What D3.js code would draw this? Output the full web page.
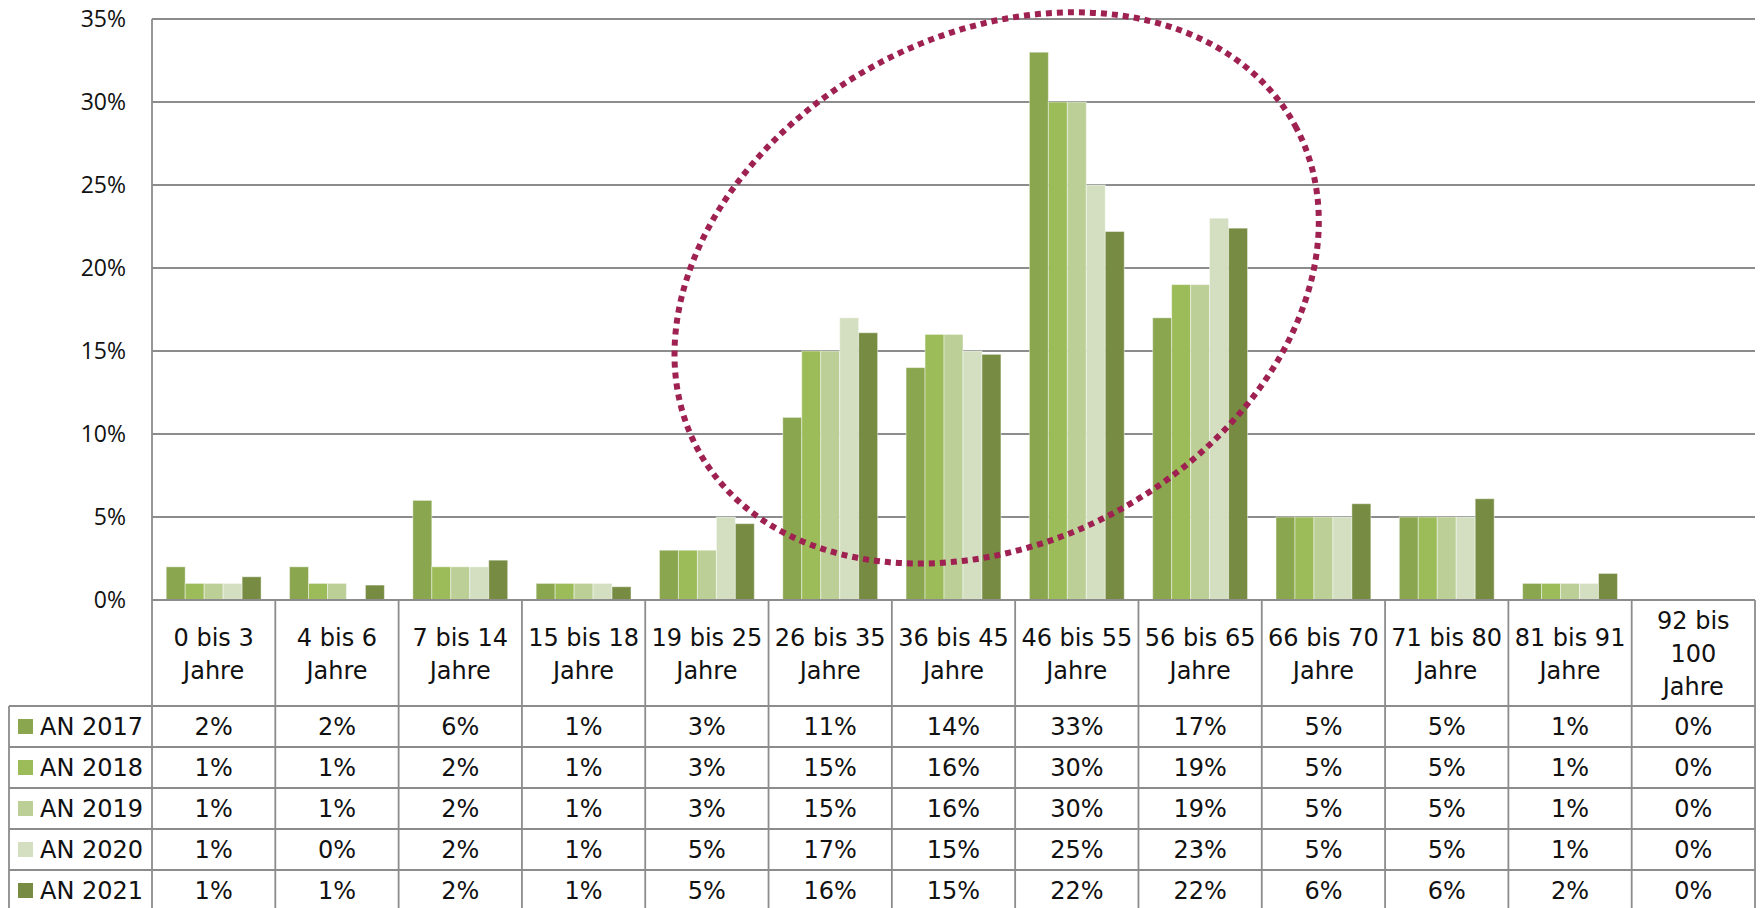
<!DOCTYPE html>
<html>
<head>
<meta charset="utf-8">
<script src="https://cdn.jsdelivr.net/npm/d3@7"></script>
<style>
  html, body { margin: 0; padding: 0; background: #ffffff; }
  svg { display: block; }
</style>
</head>
<body>
<svg id="chart" width="1760" height="908"></svg>
<script>
// ---------------- DATA ----------------
const categories = [
  "0 bis 3 Jahre", "4 bis 6 Jahre", "7 bis 14 Jahre", "15 bis 18 Jahre",
  "19 bis 25 Jahre", "26 bis 35 Jahre", "36 bis 45 Jahre", "46 bis 55 Jahre",
  "56 bis 65 Jahre", "66 bis 70 Jahre", "71 bis 80 Jahre", "81 bis 91 Jahre",
  "92 bis 100 Jahre"
];
const seriesNames = ["AN 2017", "AN 2018", "AN 2019", "AN 2020", "AN 2021"];
const an2017 = [2, 2, 6, 1, 3, 11, 14, 33, 17, 5, 5, 1, 0];
const an2018 = [1, 1, 2, 1, 3, 15, 16, 30, 19, 5, 5, 1, 0];
const an2019 = [1, 1, 2, 1, 3, 15, 16, 30, 19, 5, 5, 1, 0];
const an2020 = [1, 0, 2, 1, 5, 17, 15, 25, 23, 5, 5, 1, 0];
const an2021 = [1.4, 0.9, 2.4, 0.8, 4.6, 16.1, 14.8, 22.2, 22.4, 5.8, 6.1, 1.6, 0];
const seriesValues = [an2017, an2018, an2019, an2020, an2021];
const yTicks = [0, 5, 10, 15, 20, 25, 30, 35];
const seriesColors = ["#8aa64f", "#9cbb59", "#bbcf97", "#d3dfc0", "#778c42"];
// highlight ellipse annotation (in category index / percent units)
const highlight = { centerCat: 6.85, centerVal: 18.8, rxCats: 2.755, ryCats: 2.057, angle: -28.5 };

// ---------------- LAYOUT ----------------
const W = 1760, H = 908;
const plotLeft = 152, plotRight = 1755, plotTop = 19, plotBottom = 600;
const headerBottom = 706, rowH = 41, tableLeft = 9;
const gridColor = "#8c8c8c";
const tableFont = "'DejaVu Sans', sans-serif";

const svg = d3.select("#chart");

const x0 = d3.scaleBand().domain(categories).range([plotLeft, plotRight]).paddingInner(0).paddingOuter(0);
const x1 = d3.scaleBand().domain(seriesNames).range([0, x0.bandwidth()]).paddingInner(0).paddingOuter(0.75);
const y = d3.scaleLinear().domain([0, 35]).range([plotBottom, plotTop]);
const catPos = d3.scaleLinear().domain([0, categories.length]).range([plotLeft, plotRight]);

// gridlines
svg.append("g").selectAll("line").data(yTicks.filter(t => t > 0)).join("line")
  .attr("x1", plotLeft).attr("x2", plotRight)
  .attr("y1", d => y(d)).attr("y2", d => y(d))
  .attr("stroke", gridColor).attr("stroke-width", 1.8);

// y axis labels
const yAxis = d3.axisLeft(y).tickValues(yTicks).tickSize(0).tickPadding(26)
  .tickFormat(d => d + "%");
const yg = svg.append("g").attr("transform", `translate(${plotLeft},0)`).call(yAxis);
yg.select(".domain").remove();
yg.selectAll("text").attr("font-family", "'Open Sans', sans-serif").attr("font-size", 23)
  .attr("fill", "#111");

// bars
const groups = svg.append("g").selectAll("g").data(categories).join("g")
  .attr("transform", d => `translate(${x0(d)},0)`);
groups.selectAll("rect")
  .data((c, ci) => seriesNames.map((s, si) => ({ s, si, v: seriesValues[si][ci] })))
  .join("rect")
  .attr("x", d => x1(d.s))
  .attr("width", x1.bandwidth())
  .attr("y", d => y(d.v))
  .attr("height", d => y(0) - y(d.v))
  .attr("fill", d => seriesColors[d.si])
  .attr("stroke", "rgba(255,255,255,0.45)")
  .attr("stroke-width", d => d.v > 0 ? 1 : 0);

// y axis line
svg.append("line").attr("x1", plotLeft).attr("x2", plotLeft)
  .attr("y1", plotTop).attr("y2", H).attr("stroke", gridColor).attr("stroke-width", 1.8);

// ---------------- TABLE ----------------
const tableBottom = headerBottom + rowH * seriesNames.length;
const tg = svg.append("g");
tg.append("line").attr("x1", plotLeft).attr("x2", plotRight)
  .attr("y1", plotBottom).attr("y2", plotBottom).attr("stroke", gridColor).attr("stroke-width", 2.2);
d3.range(seriesNames.length + 1).forEach(i => {
  const yy = headerBottom + i * rowH;
  tg.append("line").attr("x1", tableLeft).attr("x2", plotRight)
    .attr("y1", yy).attr("y2", yy).attr("stroke", gridColor).attr("stroke-width", 1.8);
});
categories.forEach(c => {
  const xx = x0(c) + x0.bandwidth();
  tg.append("line").attr("x1", xx).attr("x2", xx)
    .attr("y1", plotBottom).attr("y2", tableBottom).attr("stroke", gridColor).attr("stroke-width", 1.8);
});
tg.append("line").attr("x1", tableLeft).attr("x2", tableLeft)
  .attr("y1", headerBottom).attr("y2", tableBottom).attr("stroke", gridColor).attr("stroke-width", 1.8);

// header labels (wrapped)
const headerCenter = (plotBottom + headerBottom) / 2;
const lineH = 33;
categories.forEach(c => {
  const t = tg.append("text").attr("font-family", tableFont).attr("font-size", 24)
    .attr("fill", "#111").attr("text-anchor", "middle");
  const main = c.replace(/ Jahre$/, "");
  const words = main.split(" ");
  const maxW = x0.bandwidth() - 8;
  const lines = [];
  let cur = "";
  const probe = tg.append("text").attr("font-family", tableFont).attr("font-size", 24);
  words.forEach(w => {
    const test = cur ? cur + " " + w : w;
    probe.text(test);
    if (cur && probe.node().getComputedTextLength() > maxW) { lines.push(cur); cur = w; }
    else cur = test;
  });
  lines.push(cur);
  lines.push("Jahre");
  probe.remove();
  const n = lines.length;
  const first = headerCenter + 9 - (n - 1) * lineH / 2;
  lines.forEach((ln, i) => {
    t.append("tspan").attr("x", x0(c) + x0.bandwidth() / 2).attr("y", first + i * lineH).text(ln);
  });
});

// rows
seriesNames.forEach((s, si) => {
  const top = headerBottom + si * rowH;
  const cy = top + rowH / 2;
  tg.append("rect").attr("x", 18).attr("y", cy - 7.5).attr("width", 15).attr("height", 15)
    .attr("fill", seriesColors[si]);
  tg.append("text").attr("x", 40).attr("y", cy + 8.5).attr("font-family", tableFont)
    .attr("font-size", 24).attr("fill", "#111").text(s);
  categories.forEach((c, ci) => {
    tg.append("text").attr("x", x0(c) + x0.bandwidth() / 2).attr("y", cy + 8.5)
      .attr("text-anchor", "middle").attr("font-family", tableFont).attr("font-size", 24)
      .attr("fill", "#111").text(Math.round(seriesValues[si][ci]) + "%");
  });
});

// ---------------- HIGHLIGHT ELLIPSE ----------------
const step = x0.step();
const cx = catPos(highlight.centerCat), cy = y(highlight.centerVal);
svg.append("ellipse")
  .attr("cx", 0).attr("cy", 0)
  .attr("rx", highlight.rxCats * step).attr("ry", highlight.ryCats * step)
  .attr("transform", `translate(${cx},${cy}) rotate(${highlight.angle})`)
  .attr("fill", "none").attr("stroke", "#9e2151").attr("stroke-width", 6)
  .attr("stroke-dasharray", "6 5");
</script>
</body>
</html>
